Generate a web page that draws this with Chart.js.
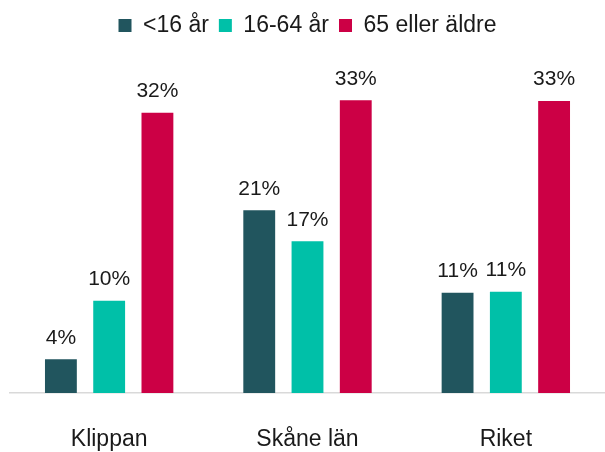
<!DOCTYPE html>
<html>
<head>
<meta charset="utf-8">
<script src="https://cdn.jsdelivr.net/npm/chart.js@4"></script>
<style>
  html, body { margin: 0; padding: 0; background: #fff; overflow: hidden; }
  canvas { display: block; }
</style>
</head>
<body>
<canvas id="Chart" width="605" height="452"></canvas>
<script>
// kategorier och serier
const categories = ['Klippan', 'Skåne län', 'Riket'];
const seriesNames = ['<16 år', '16-64 år', '65 eller äldre'];
const under16 = [3.8, 20.6, 11.3];
const age16to64 = [10.4, 17.1, 11.4];
const over65 = [31.6, 33.0, 32.9];
const colors = ['#21555E', '#00C0A8', '#CC0045'];

// etiketter ovanför staplarna
const barLabels = {
  id: 'barLabels',
  afterDatasetsDraw(chart) {
    const ctx = chart.ctx;
    ctx.save();
    ctx.font = '21px "Liberation Sans", Arial, sans-serif';
    ctx.fillStyle = '#1a1a1a';
    ctx.textAlign = 'center';
    ctx.textBaseline = 'bottom';
    chart.data.datasets.forEach((ds, i) => {
      chart.getDatasetMeta(i).data.forEach((bar, j) => {
        ctx.fillText(Math.round(ds.data[j]) + '%', bar.x, bar.y - 11);
      });
    });
    ctx.restore();
  }
};

const data = {
  labels: categories,
  datasets: [
    { label: seriesNames[0], data: under16, backgroundColor: colors[0] },
    { label: seriesNames[1], data: age16to64, backgroundColor: colors[1] },
    { label: seriesNames[2], data: over65, backgroundColor: colors[2] }
  ]
};

const config = {
  type: 'bar',
  data: data,
  plugins: [barLabels],
  options: {
    responsive: false,
    animation: false,
    categoryPercentage: 0.73,
    barPercentage: 0.66,
    layout: { padding: { left: 10, right: 0, top: 4, bottom: 0 } },
    plugins: {
      legend: {
        position: 'top',
        labels: {
          boxWidth: 13,
          boxHeight: 13,
          padding: 10,
          color: '#1a1a1a',
          font: { size: 23, family: '"Liberation Sans", Arial, sans-serif' }
        }
      },
      tooltip: { enabled: false }
    },
    scales: {
      x: {
        grid: { display: false, drawTicks: false },
        border: { display: true, color: '#d9d9d9', width: 1.5 },
        ticks: {
          color: '#1a1a1a',
          padding: 33,
          font: { size: 23, family: '"Liberation Sans", Arial, sans-serif' }
        },
        afterFit(scale) { scale.height = 59; }
      },
      y: {
        display: false,
        min: 0,
        max: 39
      }
    }
  }
};

var myChart = new Chart(document.getElementById('Chart'), config);
</script>
</body>
</html>
